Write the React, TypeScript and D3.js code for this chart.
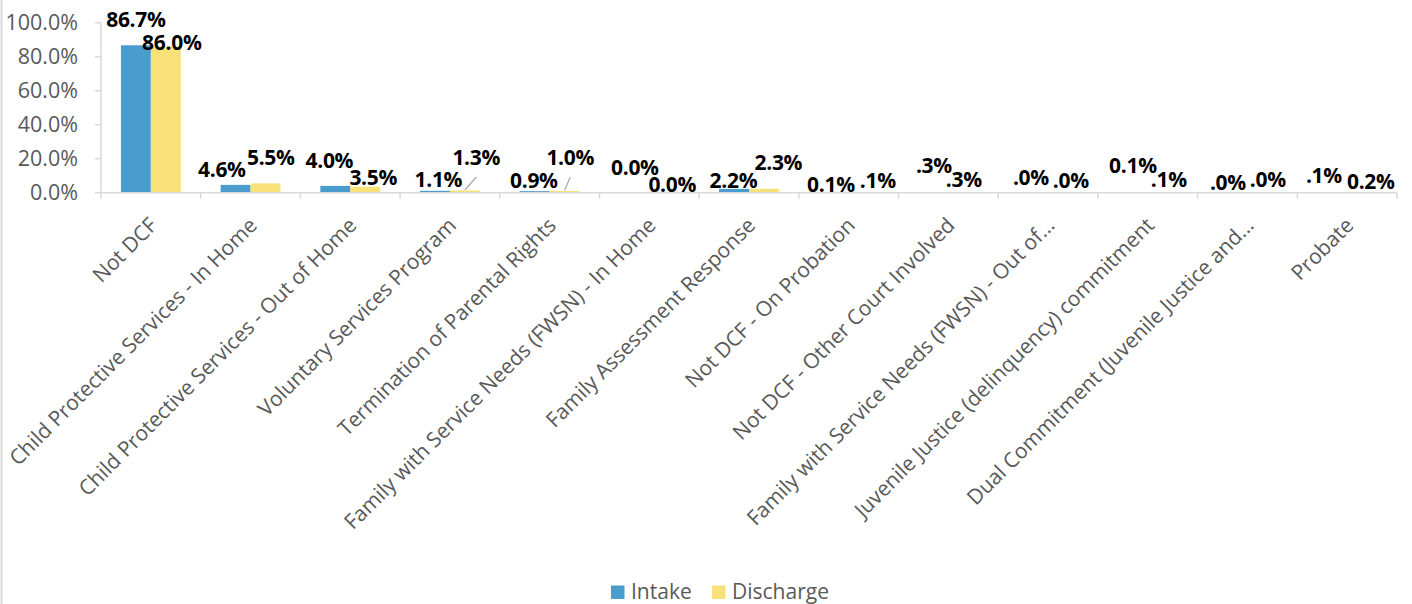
import React from "react";
import * as d3 from "d3";

const categories = [
  "Not DCF",
  "Child Protective Services - In Home",
  "Child Protective Services - Out of Home",
  "Voluntary Services Program",
  "Termination of Parental Rights",
  "Family with Service Needs (FWSN) - In Home",
  "Family Assessment Response",
  "Not DCF - On Probation",
  "Not DCF - Other Court Involved",
  "Family with Service Needs (FWSN) - Out of…",
  "Juvenile Justice (delinquency) commitment",
  "Dual Commitment (Juvenile Justice and…",
  "Probate",
];
const seriesNames = ["Intake", "Discharge"];
const intakeValues = [86.7, 4.6, 4.0, 1.1, 0.9, 0.0, 2.2, 0.1, 0.3, 0.0, 0.1, 0.0, 0.1];
const dischargeValues = [86.0, 5.5, 3.5, 1.3, 1.0, 0.0, 2.3, 0.1, 0.3, 0.0, 0.1, 0.0, 0.2];
const intakeLabels = ["86.7%", "4.6%", "4.0%", "1.1%", "0.9%", "0.0%", "2.2%", "0.1%", ".3%", ".0%", "0.1%", ".0%", ".1%"];
const dischargeLabels = ["86.0%", "5.5%", "3.5%", "1.3%", "1.0%", "0.0%", "2.3%", ".1%", ".3%", ".0%", ".1%", ".0%", "0.2%"];
const yTicks = [0, 20, 40, 60, 80, 100];

// label nudges relative to bar top-centre: [dx, dy(baseline)]
const intakeNudge: [number, number][] = [
  [0, -18.6], [-13.7, -7.9], [-5.9, -17.9], [3.4, -4.1], [-0.8, -3.2], [0.5, -17.7], [-0.6, -1],
  [-2.8, -0.5], [0.5, -19.2], [-2.2, -7.7], [0.1, -19.2], [-4.6, -2.7], [-8.3, -9.5],
];
const dischargeNudge: [number, number][] = [
  [6, 3.5], [5.3, -18.4], [8.1, -1.8], [11.4, -25.5], [5.7, -26], [8, -1], [14.4, -18.8],
  [14.2, -4.8], [0.5, -5.5], [7.8, -5], [6.1, -5.8], [5.4, -6], [8.7, -3.4],
];
const leaderLines = [false, false, false, true, true, false, false, false, false, false, false, false, false];

const W = 1412;
const H = 604;
const FONT = "'Open Sans', sans-serif";
const COLORS = ["#4A9BCE", "#F9E17A"];
const GRAY = "#595959";
const AXIS = "#D9D9D9";

export default function App() {
  const left = 101;
  const right = 1397;
  const y0 = 192.7;
  const y1 = 22.7;
  const x0 = d3.scaleBand<string>().domain(categories).range([left, right]).paddingInner(0).paddingOuter(0);
  const bw = x0.bandwidth();
  const x1 = d3.scaleBand<string>().domain(seriesNames).range([bw * 0.2, bw * 0.8]).padding(0);
  const y = d3.scaleLinear().domain([0, 100]).range([y0, y1]);
  const series = [
    { name: seriesNames[0], values: intakeValues, labels: intakeLabels, nudge: intakeNudge },
    { name: seriesNames[1], values: dischargeValues, labels: dischargeLabels, nudge: dischargeNudge },
  ];
  const boundaries = d3.range(categories.length + 1).map((i) => left + i * bw);

  return (
    <svg width={W} height={H} style={{ position: "absolute", left: 0, top: 0, background: "#fff" }} fontFamily={FONT}>
      <rect x={0} y={0} width={W} height={H} fill="#fff" />
      <line x1={1.5} x2={1.5} y1={0} y2={H} stroke={AXIS} strokeWidth={2} />
      {/* y axis */}
      <line x1={left} x2={left} y1={y1} y2={y0} stroke={AXIS} strokeWidth={1.5} />
      {yTicks.map((t) => (
        <g key={t}>
          <line x1={left - 6} x2={left} y1={y(t)} y2={y(t)} stroke={AXIS} strokeWidth={1.5} />
          <text x={78} y={y(t)} dy="0.36em" textAnchor="end" fontSize={21.5} fill={GRAY}>
            {d3.format(".1f")(t) + "%"}
          </text>
        </g>
      ))}
      {/* bars */}
      {series.map((s, si) =>
        s.values.map((v, i) => (
          <rect
            key={`${si}-${i}`}
            x={(x0(categories[i]) as number) + (x1(s.name) as number)}
            y={y(v)}
            width={x1.bandwidth()}
            height={y0 - y(v)}
            fill={COLORS[si]}
          />
        ))
      )}
      {/* x axis */}
      <line x1={left} x2={right} y1={y0} y2={y0} stroke={AXIS} strokeWidth={1.5} />
      {boundaries.map((b, i) => (
        <line key={i} x1={b} x2={b} y1={y0} y2={y0 + 6} stroke={AXIS} strokeWidth={1.5} />
      ))}
      {/* leader lines */}
      {series[1].values.map((v, i) => {
        if (!leaderLines[i]) return null;
        const cx = (x0(categories[i]) as number) + (x1(seriesNames[1]) as number) + x1.bandwidth() / 2;
        const [dx, dy] = dischargeNudge[i];
        return (
          <line key={i} x1={cx} y1={y(v) - 0.5} x2={cx + dx} y2={y(v) + dy + 12} stroke="#A6A6A6" strokeWidth={1.2} />
        );
      })}
      {/* data labels */}
      {series.map((s, si) =>
        s.values.map((v, i) => {
          const cx = (x0(categories[i]) as number) + (x1(s.name) as number) + x1.bandwidth() / 2;
          const [dx, dy] = s.nudge[i];
          return (
            <text key={`l${si}-${i}`} x={cx + dx} y={y(v) + dy} textAnchor="middle" fontSize={21} fontWeight="bold" fill="#000" letterSpacing={-0.3}>
              {s.labels[i]}
            </text>
          );
        })
      )}
      {/* category labels */}
      {categories.map((c) => {
        const cx = (x0(c) as number) + bw / 2;
        return (
          <text
            key={c}
            transform={`translate(${cx - 3},${216}) rotate(-45)`}
            dy="0.72em"
            textAnchor="end"
            fontSize={21}
            fill={GRAY}
          >
            {c}
          </text>
        );
      })}
      {/* legend */}
      {seriesNames.map((n, i) => {
        const lx = [611, 712][i];
        return (
          <g key={n}>
            <rect x={lx} y={585.5} width={13.5} height={13.5} fill={COLORS[i]} />
            <text x={lx + 20} y={599} fontSize={21} fill={GRAY}>
              {n}
            </text>
          </g>
        );
      })}
    </svg>
  );
}
